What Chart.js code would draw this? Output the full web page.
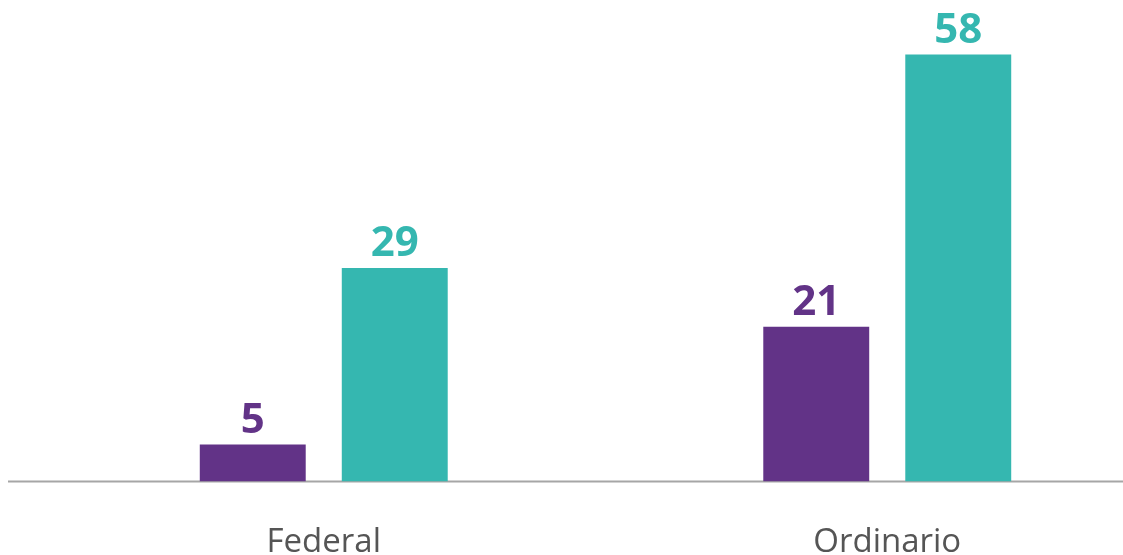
<!DOCTYPE html>
<html>
<head>
<meta charset="utf-8">
<script src="https://cdn.jsdelivr.net/npm/chart.js@4"></script>
<style>
  html, body { margin: 0; padding: 0; background: #fff; overflow: hidden; }
  #wrap { width: 1123px; height: 555px; overflow: hidden; position: relative; }
  #grafico { position: absolute; left: 0; top: 0; }
</style>
</head>
<body>
<div id="wrap"><canvas id="grafico" width="1170" height="555"></canvas></div>
<script>
// Datos
const categorias = ['Federal', 'Ordinario'];
const serieMorada = [5, 21];
const serieVerde = [29, 58];

const colorMorado = '#623387';
const colorVerde = '#35b7b0';

// Línea base y etiquetas de valor
const pluginBase = {
    id: 'lineaBase',
    beforeDatasetsDraw: (chart) => {
        const ctx = chart.ctx;
        const y = chart.scales.y.getPixelForValue(0);
        ctx.save();
        ctx.strokeStyle = '#a6a6a6';
        ctx.lineWidth = 2;
        ctx.beginPath();
        ctx.moveTo(8, y);
        ctx.lineTo(1123, y);
        ctx.stroke();
        ctx.restore();
    },
    afterDatasetsDraw: (chart) => {
        const ctx = chart.ctx;
        ctx.save();
        ctx.font = 'bold 42px "Open Sans"';
        ctx.textAlign = 'center';
        ctx.textBaseline = 'alphabetic';
        chart.data.datasets.forEach((ds, i) => {
            chart.getDatasetMeta(i).data.forEach((bar, j) => {
                ctx.fillStyle = ds.backgroundColor;
                ctx.fillText(ds.data[j], bar.x, bar.y - 12);
            });
        });
        ctx.restore();
    }
};

const ctx = document.getElementById('grafico').getContext('2d');
new Chart(ctx, {
    type: 'bar',
    data: {
        labels: categorias,
        datasets: [
            { data: serieMorada, backgroundColor: colorMorado, borderWidth: 0 },
            { data: serieVerde, backgroundColor: colorVerde, borderWidth: 0 }
        ]
    },
    options: {
        responsive: false,
        animation: false,
        layout: { padding: { left: 42, right: 1, top: 3, bottom: -48 } },
        datasets: {
            bar: { barPercentage: 0.746, categoryPercentage: 0.504 }
        },
        plugins: {
            legend: { display: false },
            tooltip: { enabled: false }
        },
        scales: {
            x: {
                grid: { display: false, drawTicks: false },
                border: { display: false },
                ticks: {
                    color: '#555555',
                    padding: 41,
                    font: { family: 'Open Sans', size: 33 }
                }
            },
            y: {
                display: false,
                min: 0,
                max: 65
            }
        }
    },
    plugins: [pluginBase]
});
</script>
</body>
</html>
